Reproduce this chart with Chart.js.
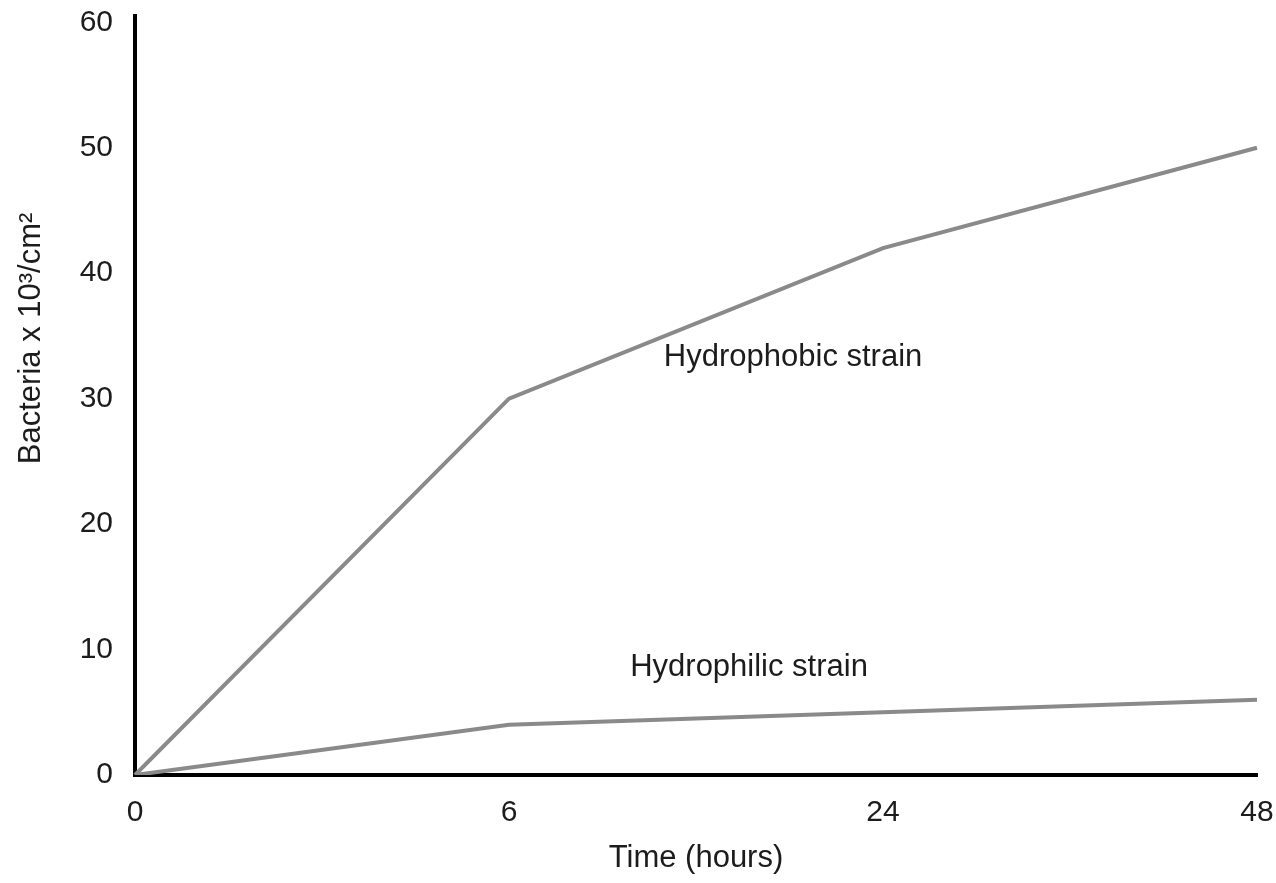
<!DOCTYPE html>
<html>
<head>
<meta charset="utf-8">
<script src="https://cdn.jsdelivr.net/npm/chart.js@4.4.1/dist/chart.umd.min.js"></script>
<style>
  html, body { margin: 0; padding: 0; background: #fff; }
  canvas { display: block; }
</style>
</head>
<body>
<canvas id="chart" width="1276" height="883"></canvas>
<script>
// time points (hours) and bacteria counts (x 10^3 / cm^2)
var timeLabels = ['0', '6', '24', '48'];
var hydrophobic = [0, 30, 42, 50];
var hydrophilic = [0, 4, 5, 6];
var yTicks = [0, 10, 20, 30, 40, 50, 60];

var FONT = 'Liberation Sans, Arial, Helvetica, sans-serif';
var lineGray = '#8a8a8a';
var textColor = '#1c1c1c';

// text written next to each line, placed in data units (x = category index)
var lineNotes = [
  { text: 'Hydrophobic strain', x: 1.414, y: 33.3 },
  { text: 'Hydrophilic strain', x: 1.324, y: 8.6 }
];

var notesPlugin = {
  id: 'notes',
  afterDatasetsDraw: function (chart) {
    var ctx = chart.ctx;
    var xs = chart.scales.x, ys = chart.scales.y;
    ctx.save();
    ctx.fillStyle = textColor;
    ctx.font = '31px ' + FONT;
    ctx.textAlign = 'left';
    ctx.textBaseline = 'middle';
    lineNotes.forEach(function (n) {
      ctx.fillText(n.text, xs.getPixelForValue(n.x), ys.getPixelForValue(n.y));
    });
    // y axis title, sits a bit above the middle of the axis
    ctx.translate(31, ys.getPixelForValue(34.8));
    ctx.rotate(-Math.PI / 2);
    ctx.textAlign = 'center';
    ctx.fillText('Bacteria x 10\u00B3/cm\u00B2', 0, 0);
    ctx.restore();
  }
};

new Chart(document.getElementById('chart').getContext('2d'), {
  type: 'line',
  data: {
    labels: timeLabels,
    datasets: [
      { label: 'Hydrophobic strain', data: hydrophobic },
      { label: 'Hydrophilic strain', data: hydrophilic }
    ]
  },
  options: {
    responsive: false,
    animation: false,
    devicePixelRatio: 1,
    layout: { padding: { top: 16, right: 19, left: 0, bottom: 0 } },
    elements: {
      line: { borderColor: lineGray, borderWidth: 4, tension: 0, fill: false },
      point: { radius: 0, hoverRadius: 0 }
    },
    plugins: {
      legend: { display: false },
      tooltip: { enabled: false }
    },
    scales: {
      x: {
        type: 'category',
        offset: false,
        grid: { display: false, drawTicks: false },
        border: { display: true, color: '#000', width: 4 },
        ticks: { color: textColor, font: { family: FONT, size: 30 }, padding: 20, maxRotation: 0, autoSkip: false },
        title: { display: true, text: 'Time (hours)', color: textColor, font: { family: FONT, size: 31 }, padding: { top: 0, bottom: 6 } },
        afterFit: function (s) {
          s.height = 108;
          s.paddingLeft = 0;
          s.paddingRight = 0;
        }
      },
      y: {
        min: 0,
        max: 60.5,
        grid: { display: false, drawTicks: false },
        border: { display: true, color: '#000', width: 4 },
        ticks: {
          includeBounds: false,
          stepSize: 10,
          color: textColor,
          font: { family: FONT, size: 30 },
          padding: 22
        },
        afterBuildTicks: function (s) { s.ticks = yTicks.map(function (v) { return { value: v }; }); },
        afterFit: function (s) {
          s.width = 135;
          s.paddingTop = 0;
          s.paddingBottom = 0;
        }
      }
    }
  },
  plugins: [notesPlugin]
});
</script>
</body>
</html>
